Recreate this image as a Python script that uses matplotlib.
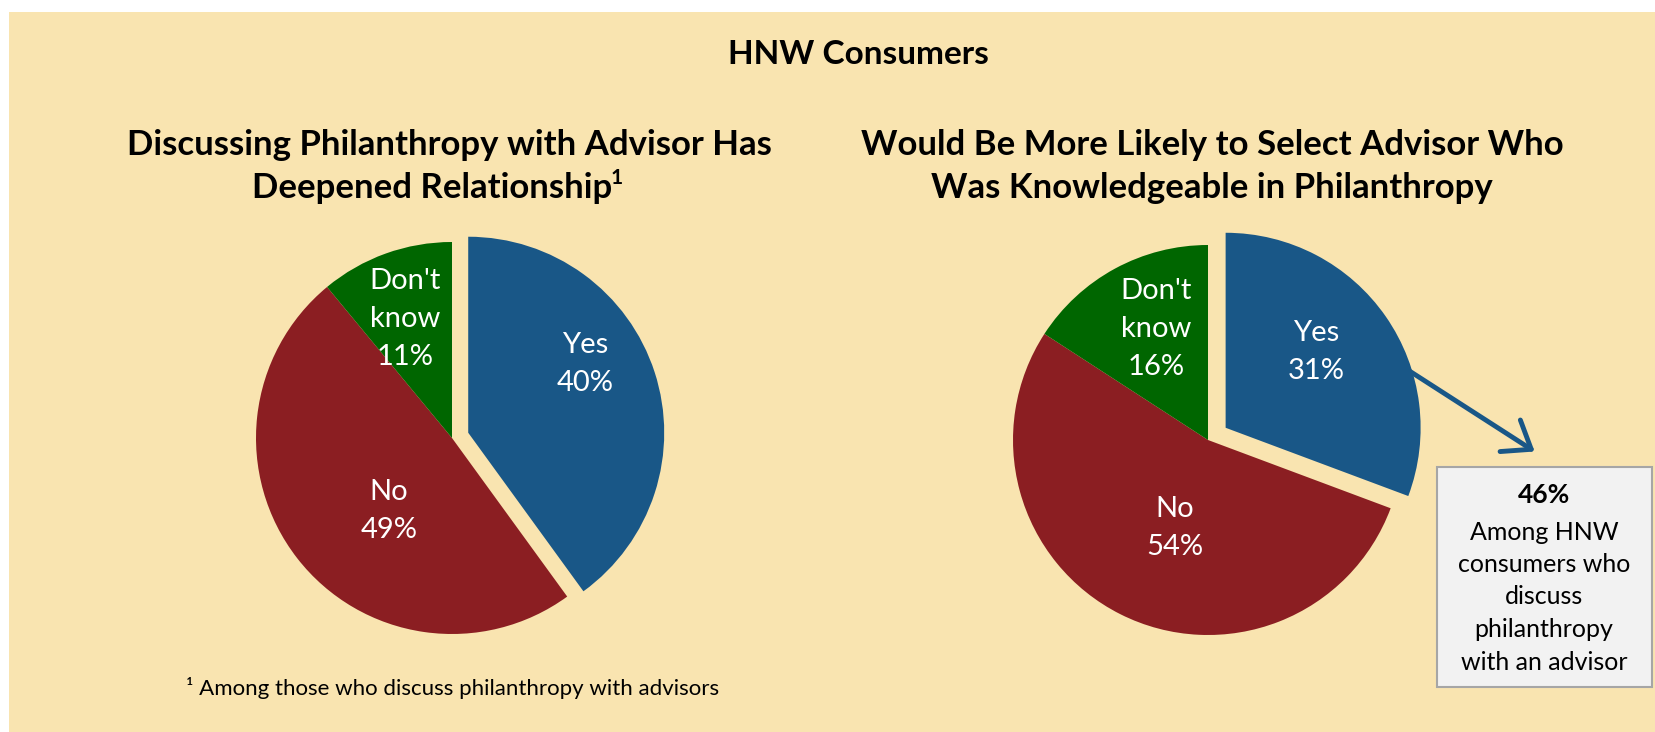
import matplotlib

matplotlib.use("Agg")
import matplotlib.pyplot as plt
from matplotlib.patches import Rectangle, FancyArrowPatch

W, H = 1655, 732
BG = "#F9E4B0"
BLUE = "#195787"
RED = "#8B1E22"
GREEN = "#006600"

# data
left_labels = ["Yes", "No", "Don't\nknow"]
left_values = [40, 49, 11]
right_labels = ["Yes", "No", "Don't\nknow"]
right_values = [31, 54, 16]
callout_value = 46
callout_text = "Among HNW\nconsumers who\ndiscuss\nphilanthropy\nwith an advisor"

plt.rcParams["font.family"] = ["Lato", "DejaVu Sans"]


def fx(px):
    return px / W


def fy(py):
    return 1 - py / H


def pie_axes(fig, cx, cy, r, lim=1.35):
    size = 2 * lim * r
    ax = fig.add_axes([fx(cx - size / 2), fy(cy + size / 2), size / W, size / H])
    ax.set_aspect("equal")
    ax.axis("off")
    return ax


def draw_pie(ax, values, labels, explode_yes, label_pos):
    ax.pie(values, colors=[BLUE, RED, GREEN], startangle=90, counterclock=False,
           explode=[explode_yes, 0, 0], radius=1, wedgeprops=dict(linewidth=0))
    ax.set_xlim(-1.35, 1.35)
    ax.set_ylim(-1.35, 1.35)
    for lab, v, (x, y) in zip(labels, values, label_pos):
        ax.text(x, y, f"{lab}\n{v}%", ha="center", va="center", color="white",
                fontsize=21, linespacing=1.55)


fig = plt.figure(figsize=(W / 100, H / 100), dpi=100, facecolor="white")
fig.patches.append(Rectangle((fx(9), 0), 1 - fx(9), fy(12), transform=fig.transFigure,
                             facecolor=BG, edgecolor="none", zorder=-5))

fig.text(fx(858), fy(55), "HNW Consumers", ha="center", va="center", fontsize=24, fontweight="bold")

TS = 25
# left titles
fig.text(fx(449), fy(145), "Discussing Philanthropy with Advisor Has", ha="center", va="center",
         fontsize=TS, fontweight="bold")
t2 = fig.text(fx(432), fy(188), "Deepened Relationship", ha="center", va="center",
              fontsize=TS, fontweight="bold")
# right titles
fig.text(fx(1212), fy(145), "Would Be More Likely to Select Advisor Who", ha="center", va="center",
         fontsize=TS, fontweight="bold")
fig.text(fx(1212), fy(188), "Was Knowledgeable in Philanthropy", ha="center", va="center",
         fontsize=TS, fontweight="bold")

axl = pie_axes(fig, 452, 438, 196)
draw_pie(axl, left_values, left_labels, 0.087,
         [(0.679, 0.378), (-0.321, -0.372), (-0.240, 0.607)])
axr = pie_axes(fig, 1208, 440, 195)
draw_pie(axr, right_values, right_labels, 0.11,
         [(0.554, 0.451), (-0.169, -0.451), (-0.267, 0.569)])

# superscript on left title
fig.add_artist(matplotlib.text.Annotation(
    "1", xy=(1, 1), xycoords=t2, xytext=(-1, 3), textcoords="offset points",
    ha="left", va="top", fontsize=15, fontweight="bold", annotation_clip=False))

# callout arrow
fig.add_artist(FancyArrowPatch(
    (fx(1397), fy(363)), (fx(1537), fy(453)), transform=fig.transFigure,
    arrowstyle="->,head_length=0.6,head_width=0.45", mutation_scale=30,
    color=BLUE, lw=3.5, zorder=3))

# callout box
fig.patches.append(Rectangle((fx(1437), fy(687)), fx(1652) - fx(1437), fy(467) - fy(687),
                             transform=fig.transFigure, facecolor="#F2F2F2",
                             edgecolor="#A6A6A6", lw=1.5, zorder=1))
fig.text(fx(1544), fy(495), f"{callout_value}%", ha="center", va="center", fontsize=19,
         fontweight="bold", zorder=2)
fig.text(fx(1544), fy(597), callout_text, ha="center", va="center", fontsize=18,
         linespacing=1.5, zorder=2)

fig.text(fx(186), fy(688), "\u00b9 Among those who discuss philanthropy with advisors",
         ha="left", va="center", fontsize=16)

fig.savefig("out.png", dpi=100, facecolor="white")
